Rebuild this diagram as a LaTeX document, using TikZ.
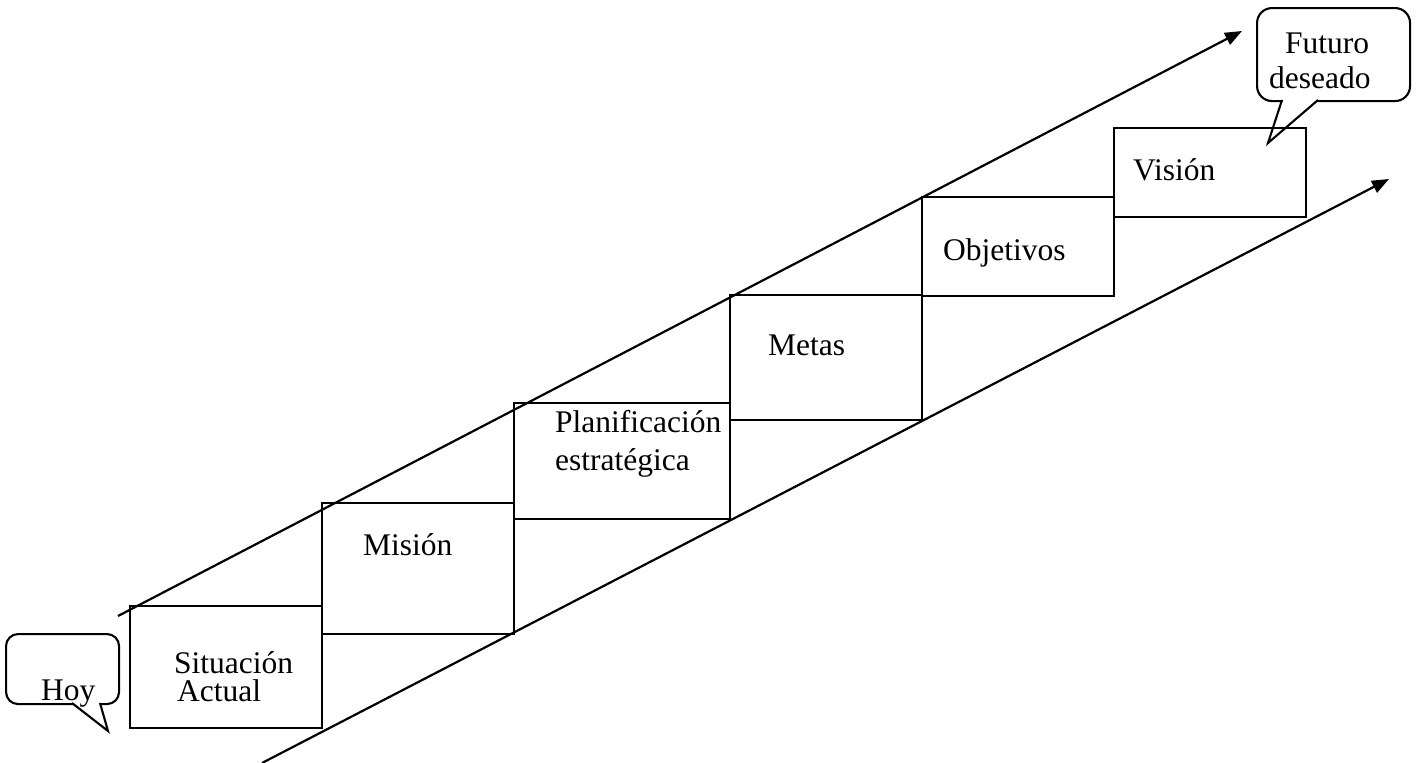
\documentclass[tikz,border=0pt]{standalone}
\usepackage{fontspec}
\setmainfont{Liberation Serif}
\usetikzlibrary{arrows.meta}
\begin{document}
\begin{tikzpicture}[x=1pt,y=-1pt,
  stage/.style={draw, line width=2.1pt, inner sep=0pt, anchor=north west},
  txt/.style={anchor=base west, inner sep=0pt, font=\fontsize{31.5}{34}\selectfont},
  trend/.style={line width=2.2pt, -{Triangle[length=17pt,width=13pt]}},
  bubble/.style={draw, line width=2.1pt, inner sep=0pt, anchor=north west},
  tail/.style={line width=2.1pt, line join=miter}]
\useasboundingbox (0,0) rectangle (1417,763);

% staircase of stages
\node[stage, minimum width=192pt, minimum height=122pt] (sit) at (129,605) {};
\node[stage, minimum width=192pt, minimum height=131pt] (mis) at (321,502) {};
\node[stage, minimum width=216pt, minimum height=116pt] (pla) at (513,402) {};
\node[stage, minimum width=192pt, minimum height=125pt] (met) at (729,294) {};
\node[stage, minimum width=192pt, minimum height=99pt]  (obj) at (921,196) {};
\node[stage, minimum width=192pt, minimum height=89pt]  (vis) at (1113,127) {};

% stage labels
\node[txt] (t-sit1) at (174,673) {Situación};
\node[txt] (t-sit2) at (177,701) {Actual};
\node[txt] (t-mis)  at (363,555) {Misión};
\node[txt] (t-pla1) at (555,432) {Planificación};
\node[txt] (t-pla2) at (555,470) {estratégica};
\node[txt] (t-met)  at (768,355) {Metas};
\node[txt] (t-obj)  at (943,260) {Objetivos};
\node[txt] (t-vis)  at (1133,180) {Visión};

% trend arrows
\coordinate (up0) at (118,616);
\coordinate (up1) at (1242,31);
\coordinate (lo0) at (262,763);
\coordinate (lo1) at (1389,179);
\draw[trend] (up0) -- (up1);
\draw[trend] (lo0) -- (lo1);

% "Hoy" speech bubble
\node[bubble, rounded corners=12pt, minimum width=113pt, minimum height=70pt] (hoyb) at (5,633) {};
\fill[white] (74,700) -- (99,700) -- (100,706) -- (74,706) -- cycle;
\coordinate (hoyl) at (72,703);
\coordinate (hoyt) at (108,731);
\coordinate (hoyr) at (100,703);
\draw[tail] (hoyl) -- (hoyt) -- (hoyr);
\node[txt] (t-hoy) at (41,700) {Hoy};

% "Futuro deseado" speech bubble
\node[bubble, rounded corners=15pt, minimum width=153pt, minimum height=93pt] (futb) at (1256,7) {};
\fill[white] (1283,97) -- (1317,97) -- (1317,103) -- (1283,103) -- cycle;
\coordinate (futl) at (1282,100);
\coordinate (futt) at (1268,143);
\coordinate (futr) at (1318,100);
\draw[tail] (futl) -- (futt) -- (futr);
\node[txt] (t-fut1) at (1285,53) {Futuro};
\node[txt] (t-fut2) at (1269,88) {deseado};
\end{tikzpicture}
\end{document}
